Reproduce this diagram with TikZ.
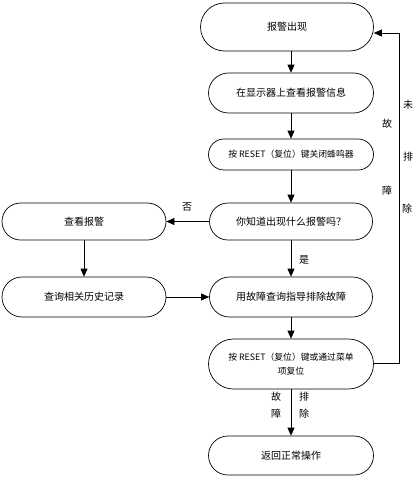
\documentclass[tikz,border=0pt]{standalone}
\usepackage{fontspec}
\newfontfamily\cjk{Noto Sans CJK SC}
\usetikzlibrary{arrows.meta}
\tikzset{
  term/.style 2 args={draw, line width=0.7pt, rounded corners=#2/2, minimum width=#1, minimum height=#2, inner sep=0pt, align=center, font=\cjk\fontsize{10}{14}\selectfont},
  arr/.style={line width=0.7pt, -{Triangle[length=8pt,width=7pt]}},
  lbl/.style={inner sep=0pt, font=\cjk\fontsize{10}{12}\selectfont},
}
\begin{document}
\begin{tikzpicture}[x=1pt,y=1pt]
\useasboundingbox (0,0) rectangle (419,-479);
\node[term={173}{48}] (n1) at (287,-27) {报警出现};
\node[term={165}{40}] (n2) at (291,-93) {在显示器上查看报警信息};
\node[term={165}{31}, font=\cjk\fontsize{8.8}{12}\selectfont] (n3) at (291,-154.5) {按 RESET（复位）键关闭蜂鸣器};
\node[term={163}{37}] (n4) at (291,-221.5) {你知道出现什么报警吗？};
\node[term={164}{37}] (l1) at (84,-221.5) {查看报警};
\node[term={164}{40}] (l2) at (84,-297) {查询相关历史记录};
\node[term={163}{40}] (n7) at (291,-297) {用故障查询指导排除故障};
\node[term={165}{50}, font=\cjk\fontsize{8.8}{14}\selectfont] (n8) at (291,-364) {按 RESET（复位）键或通过菜单\\项复位};
\node[term={165}{39}] (n9) at (291,-455.5) {返回正常操作};
\coordinate (c1) at (399,-363);
\coordinate (c2) at (399,-33);
\draw[arr] (n2.north |- n1.south) -- (n2.north);
\draw[arr] (n2) -- (n3);
\draw[arr] (n3) -- (n4);
\draw[arr] (n4) -- (l1);
\draw[arr] (l1) -- (l2);
\draw[arr] (n4) -- (n7);
\draw[arr] (l2) -- (n7);
\draw[arr] (n7) -- (n8);
\draw[arr] (n8) -- (n9);
\draw[arr] (n8.east |- c1) -- (c1) -- (c2) -- ([yshift=-6pt]n1.east);
\node[lbl] (no) at (187,-207) {否};
\node[lbl] (yes) at (304,-260) {是};
\node[lbl] (a1) at (276,-397) {故};
\node[lbl] (a2) at (276,-414) {障};
\node[lbl] (a3) at (304,-397) {排};
\node[lbl] (a4) at (304,-414) {除};
\node[lbl] (b1) at (408,-105) {未};
\node[lbl] (b2) at (387,-124) {故};
\node[lbl] (b3) at (408,-157) {排};
\node[lbl] (b4) at (387,-191) {障};
\node[lbl] (b5) at (407,-209) {除};
\end{tikzpicture}
\end{document}
